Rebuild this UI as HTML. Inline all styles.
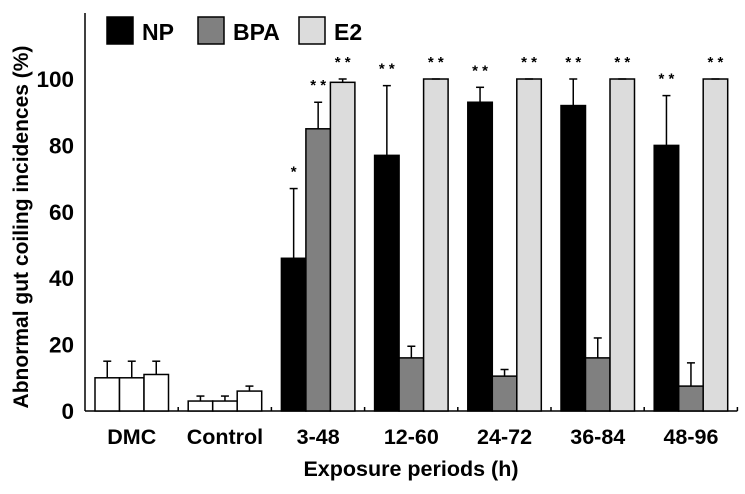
<!DOCTYPE html>
<html><head><meta charset="utf-8"><style>
body{margin:0;background:#fff}
svg text{font-family:"Liberation Sans",Arial,sans-serif;font-weight:bold}
</style></head><body>
<svg id="chart" width="745" height="489">
<g id="g"></g>
</svg>
<script>
const categories=["DMC","Control","3-48","12-60","24-72","36-84","48-96"];
const npVals=[10,3,46,77,93,92,80];
const npErr=[5,1.5,21,21,4.5,8,15];
const bpaVals=[10,3,85,16,10.5,16,7.5];
const bpaErr=[5,1.5,8,3.5,2,6,7];
const e2Vals=[11,6,99,100,100,100,100];
const e2Err=[4,1.5,1,0,0,0,0];
const npStars=["","","*","* *","* *","* *","* *"];
const bpaStars=["","","* *","","","",""];
const e2Stars=["","","* *","* *","* *","* *","* *"];
const yTicks=[0,20,40,60,80,100];
const NS="http://www.w3.org/2000/svg";
const g=document.getElementById('g');
const x0=85,base=411,grpW=93.2,barW=24.5,off=10;
const y=v=>base-v*3.32;
function el(t,a,txt){const e=document.createElementNS(NS,t);for(const k in a)e.setAttribute(k,a[k]);if(txt!==undefined)e.textContent=txt;g.appendChild(e);return e;}
let ax=el('line',{x1:x0,y1:13,x2:x0,y2:base,stroke:'#000','stroke-width':1.5});


ax=el('line',{x1:x0,y1:base,x2:x0+grpW*categories.length,y2:base,stroke:'#000','stroke-width':1.5});


yTicks.forEach(v=>{
 const t=el('text',{x:74,y:y(v)+8,'text-anchor':'end','font-size':22.5},String(v));
 
 
});
for(let i=1;i<=categories.length;i++){
 const tk=el('line',{x1:x0+grpW*i,y1:base,x2:x0+grpW*i,y2:base-4,stroke:'#000','stroke-width':1.5});
 
 
}
const series=[[npVals,npErr,npStars,'#000'],[bpaVals,bpaErr,bpaStars,'#808080'],[e2Vals,e2Err,e2Stars,'#dcdcdc']];
categories.forEach((c,i)=>{
 const gx=x0+grpW*i+off;
 series.forEach((s,j)=>{
  const v=s[0][i],e=s[1][i],bx=gx+j*barW;
  const fill=i<2?'#fff':s[3];
  const r=el('rect',{x:bx,y:y(v),width:barW,height:base-y(v),fill:fill,stroke:'#000','stroke-width':1.5});
  
  
  const cx=bx+barW/2;
  if(e>0){
   const l=el('line',{x1:cx,y1:y(v),x2:cx,y2:y(v+e),stroke:'#000','stroke-width':1.5});
   
   
  }
  const cap=el('line',{x1:cx-4,y1:y(v+e),x2:cx+4,y2:y(v+e),stroke:'#000','stroke-width':1.5});
  
  
  if(s[2][i]){
   const st=el('text',{x:cx,y:y(v+e)-12,'text-anchor':'middle','font-size':15,'font-weight':'normal'},s[2][i]);
   
   
  }
 });
 const t=el('text',{x:gx+barW*1.5,y:444,'text-anchor':'middle','font-size':21.5},c);
 
 
});
let t=el('text',{x:411,y:476,'text-anchor':'middle','font-size':21.5},'Exposure periods (h)');


t=el('text',{x:0,y:0,'text-anchor':'middle','font-size':21,transform:'translate(28,227) rotate(-90)'},'Abnormal gut coiling incidences (%)');


[['NP','#000',107],['BPA','#808080',198],['E2','#dcdcdc',299]].forEach(L=>{
 const r=el('rect',{x:L[2],y:17,width:26,height:27,fill:L[1],stroke:'#000','stroke-width':1.5});
 
 
 const tx=el('text',{x:L[2]+35,y:40,'font-size':23},L[0]);
 
 
});
</script>
</body></html>
